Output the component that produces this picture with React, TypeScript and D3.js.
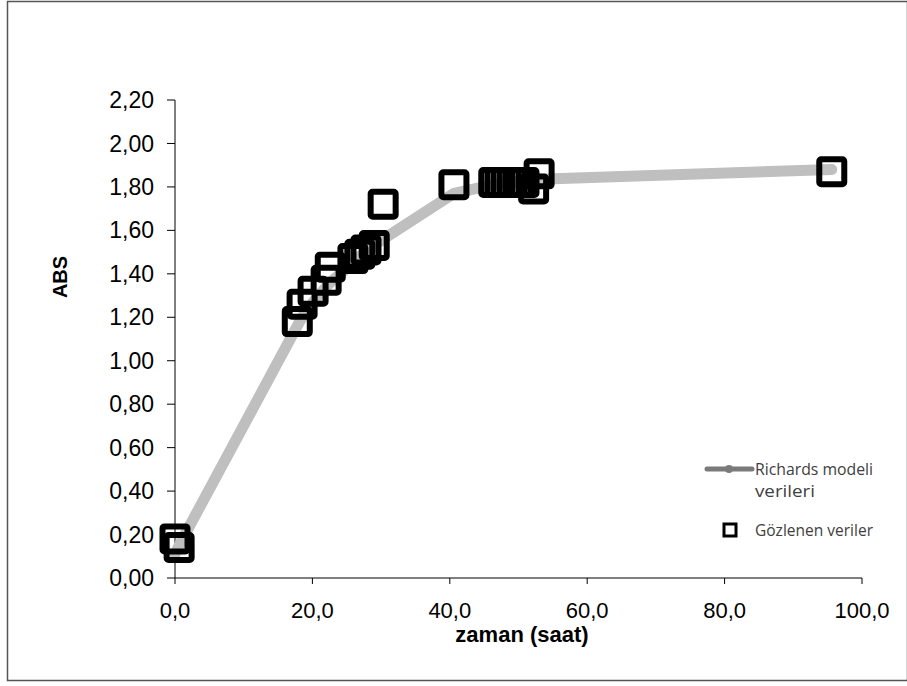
import React from "react";
import * as d3 from "d3";

// Observed absorbance readings (time in hours, ABS)
const obsTime = [0.0, 0.6, 17.8, 18.5, 20.1, 22.0, 22.6, 25.9, 26.9, 27.8, 29.0, 30.3, 40.6, 46.4, 47.3, 48.2, 49.1, 50.0, 50.8, 52.2, 53.0, 95.6];
const obsAbs = [0.18, 0.14, 1.18, 1.26, 1.32, 1.37, 1.43, 1.47, 1.49, 1.51, 1.53, 1.72, 1.81, 1.82, 1.82, 1.82, 1.82, 1.82, 1.82, 1.79, 1.86, 1.87];

// Richards model fitted values at the same times
const modelAbs = [0.11, 0.15, 1.16, 1.2, 1.27, 1.34, 1.36, 1.45, 1.48, 1.5, 1.53, 1.56, 1.77, 1.81, 1.815, 1.82, 1.82, 1.825, 1.83, 1.83, 1.835, 1.88];

const xTicks = [0, 20, 40, 60, 80, 100];
const yTicks = [0, 0.2, 0.4, 0.6, 0.8, 1.0, 1.2, 1.4, 1.6, 1.8, 2.0, 2.2];

const legendLabels = ["Richards modeli", "verileri", "Gözlenen veriler"];
const xTitle = "zaman (saat)";
const yTitle = "ABS";

const W = 907;
const H = 686;

export default function App() {
  const x = d3.scaleLinear().domain([0, 100]).range([175, 862]);
  const y = d3.scaleLinear().domain([0, 2.2]).range([578, 100]);

  const fmtY = (v: number) => v.toFixed(2).replace(".", ",");
  const fmtX = (v: number) => v.toFixed(1).replace(".", ",");

  const line = d3
    .line<number>()
    .x((_, i) => x(obsTime[i]))
    .y((d) => y(d));

  const sq = 25;
  const font = "Arial, 'Liberation Sans', sans-serif";

  return (
    <svg
      width={W}
      height={H}
      style={{ position: "absolute", left: 0, top: 0, background: "#fff" }}
    >
      <rect x={7.5} y={1.5} width={900} height={679} fill="#fff" stroke="#555" strokeWidth={1.5} />

      {/* axes */}
      <line x1={x(0)} x2={x(100)} y1={y(0)} y2={y(0)} stroke="#000" strokeWidth={1} />
      <line x1={x(0)} x2={x(0)} y1={y(0)} y2={y(2.2)} stroke="#000" strokeWidth={1} />

      {yTicks.map((t) => (
        <g key={"y" + t}>
          <line x1={x(0) - 8} x2={x(0)} y1={y(t)} y2={y(t)} stroke="#000" strokeWidth={1} />
          <text
            x={154}
            y={y(t)}
            dy="0.35em"
            textAnchor="end"
            fontFamily={font}
            fontSize={23}
            fill="#000"
          >
            {fmtY(t)}
          </text>
        </g>
      ))}

      {xTicks.map((t) => (
        <g key={"x" + t}>
          <line x1={x(t)} x2={x(t)} y1={y(0)} y2={y(0) + 6} stroke="#000" strokeWidth={1} />
          <text
            x={x(t)}
            y={618}
            textAnchor="middle"
            fontFamily={font}
            fontSize={22}
            fill="#000"
          >
            {fmtX(t)}
          </text>
        </g>
      ))}

      <text x={522} y={642} textAnchor="middle" fontFamily={font} fontWeight="bold" fontSize={22}>
        {xTitle}
      </text>
      <text
        transform="translate(67,277) rotate(-90)"
        textAnchor="middle"
        fontFamily={font}
        fontWeight="bold"
        fontSize={20}
      >
        {yTitle}
      </text>

      {/* model curve */}
      <path
        d={line(modelAbs) || ""}
        fill="none"
        stroke="#bfbfbf"
        strokeWidth={11}
        strokeLinecap="round"
        strokeLinejoin="round"
      />

      {/* observed points */}
      {obsAbs.map((v, i) => (
        <rect
          key={"o" + i}
          x={x(obsTime[i]) - sq / 2}
          y={y(v) - sq / 2}
          width={sq}
          height={sq}
          rx={2}
          fill="none"
          stroke="#000"
          strokeWidth={6}
        />
      ))}

      {/* legend */}
      <g fontFamily="'Open Sans', sans-serif" fontSize={16} fill="#404040">
        <line x1={707} x2={752} y1={469} y2={469} stroke="#7a7a7a" strokeWidth={5} strokeLinecap="round" />
        <circle cx={729} cy={469} r={4} fill="#7a7a7a" />
        <text x={755} y={475} textLength={118} lengthAdjust="spacingAndGlyphs">
          {legendLabels[0]}
        </text>
        <text x={755} y={497} textLength={60} lengthAdjust="spacingAndGlyphs">
          {legendLabels[1]}
        </text>
        <rect x={724} y={524} width={12} height={12} fill="none" stroke="#000" strokeWidth={3} />
        <text x={755} y={536} textLength={118} lengthAdjust="spacingAndGlyphs">
          {legendLabels[2]}
        </text>
      </g>
    </svg>
  );
}
